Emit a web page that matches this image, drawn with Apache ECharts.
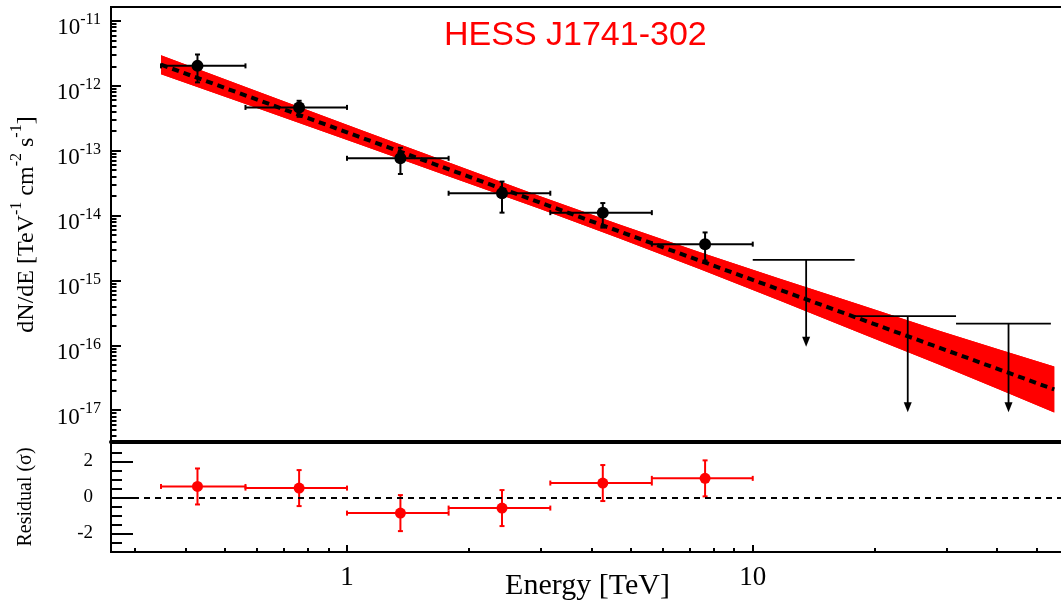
<!DOCTYPE html>
<html><head><meta charset="utf-8">
<script src="https://cdn.jsdelivr.net/npm/echarts@6/dist/echarts.min.js"></script>
<style>html,body{margin:0;padding:0;background:#fff}#c{width:1061px;height:602px}</style>
</head><body><div id="c"></div>
<script>
// ---- data ----
const pointE   = [0.428, 0.762, 1.354, 2.41, 4.27, 7.63];
const pointElo = [0.348, 0.562, 1.0, 1.78, 3.17, 5.64];
const pointEhi = [0.562, 1.0, 1.78, 3.17, 5.64, 10.0];
const pointF   = [2.03e-12, 4.65e-13, 7.64e-14, 2.21e-14, 1.11e-14, 3.63e-15];
const pointFlo = [1.13e-12, 3.33e-13, 4.38e-14, 1.11e-14, 6.53e-15, 2.03e-15];
const pointFhi = [3.04e-12, 5.88e-13, 1.11e-13, 3.34e-14, 1.56e-14, 5.5e-15];
const ulE   = [13.54, 24.1, 42.7];
const ulElo = [10.0, 17.83, 31.7];
const ulEhi = [17.83, 31.7, 54.3];
const ulF   = [2.08e-15, 2.83e-16, 2.16e-16];
const ulTip = [9.5e-17, 9.3e-18, 9.3e-18];
const fitE = [0.348, 1.0, 10.0, 55.35];
const fitF = [2.12e-12, 1.92e-13, 1.02e-15, 2.09e-17];
const bandE  = [0.348, 0.576, 1.075, 1.791, 2.983, 4.696, 7.39, 11.63, 18.32, 28.84, 40.52, 55.35];
const bandHi = [2.96e-12, 9.09e-13, 2.13e-13, 6.53e-14, 2.01e-14, 7.30e-15, 2.74e-15, 1.07e-15, 4.25e-16, 1.68e-16, 8.61e-17, 4.72e-17];
const bandLo = [1.51e-12, 4.98e-13, 1.25e-13, 3.98e-14, 1.27e-14, 4.45e-15, 1.50e-15, 4.91e-16, 1.57e-16, 5.04e-17, 2.09e-17, 9.25e-18];
const resid    = [0.61, 0.52, -0.87, -0.59, 0.80, 1.06];
const residErr = [1, 1, 1, 1, 1, 1];
const xMajorTicks = [1, 10];
const xMinorTicks = [0.3, 0.4, 0.5, 0.6, 0.7, 0.8, 0.9, 2, 3, 4, 5, 6, 7, 8, 9, 20, 30, 40, 50];
const yMajorTicks = [1e-17, 1e-16, 1e-15, 1e-14, 1e-13, 1e-12, 1e-11];
const residMajorTicks = [-2, 0, 2];
const residMinorTicks = [-2.5, -1.5, -1, -0.5, 0.5, 1, 1.5, 2.5];
const titleText = 'HESS J1741-302';

const X_MIN = 0.262, X_MAX = 58.5;
const Y_MIN = 3.24e-18, Y_MAX = 1.64e-11;
const R_MIN = -3.03, R_MAX = 3.08;

const yMinorTicks = [];
for (let n = -18; n <= -11; n++) for (let m = 2; m <= 9; m++) {
  const v = m * Math.pow(10, n);
  if (v > Y_MIN && v < Y_MAX) yMinorTicks.push(v);
}

const SERIF = 'Liberation Serif';
const SANS = 'Liberation Sans';

// white-dot overlay pattern for the band
const pc = document.createElement('canvas');
pc.width = 3; pc.height = 3;
const pctx = pc.getContext('2d');
pctx.clearRect(0, 0, 3, 3);
pctx.fillStyle = 'rgba(255,255,255,0.9)'; pctx.fillRect(0, 0, 1, 1);
const dotPattern = pctx.createPattern(pc, 'repeat');

function errRender(color) {
  return function (params, api) {
    const x = api.value(0), y = api.value(1), xl = api.value(2), xh = api.value(3), yl = api.value(4), yh = api.value(5);
    const pl = api.coord([xl, y]), ph = api.coord([xh, y]);
    const pb = api.coord([x, yl]), pt = api.coord([x, yh]);
    const st = { stroke: color, lineWidth: 2 };
    const cap = 2.5;
    const L = (x1, y1, x2, y2) => ({ type: 'line', shape: { x1, y1, x2, y2 }, style: st });
    return { type: 'group', children: [
      L(pl[0], pl[1], ph[0], ph[1]),
      L(pl[0], pl[1] - cap, pl[0], pl[1] + cap),
      L(ph[0], ph[1] - cap, ph[0], ph[1] + cap),
      L(pb[0], pb[1], pt[0], pt[1]),
      L(pb[0] - cap, pb[1], pb[0] + cap, pb[1]),
      L(pt[0] - cap, pt[1], pt[0] + cap, pt[1])
    ]};
  };
}

const chart = echarts.init(document.getElementById('c'), null, { renderer: 'canvas' });

const logAxisBase = { type: 'log', logBase: 10, splitLine: { show: false }, minorTick: { show: false } };

const option = {
  animation: false,
  backgroundColor: '#fff',
  title: {
    text: titleText, left: 444, top: 19, padding: 0,
    textStyle: { color: '#ff0000', fontFamily: SANS, fontSize: 34, fontWeight: 'normal' }
  },
  grid: [
    { left: 111, right: -3, top: 7, height: 435, show: true, borderColor: '#000', borderWidth: 2, backgroundColor: '#fff', outerBoundsMode: 'none', containLabel: false },
    { left: 111, right: -3, top: 442, height: 110, show: true, borderColor: '#000', borderWidth: 2, backgroundColor: '#fff', outerBoundsMode: 'none', containLabel: false }
  ],
  xAxis: [
    Object.assign({}, logAxisBase, { gridIndex: 0, position: 'bottom', min: X_MIN, max: X_MAX,
      axisLine: { show: true, onZero: false, lineStyle: { color: '#000', width: 4 } },
      axisTick: { show: false }, axisLabel: { show: false } }),
    Object.assign({}, logAxisBase, { gridIndex: 1, position: 'bottom', min: X_MIN, max: X_MAX,
      axisLine: { show: true, onZero: false, lineStyle: { color: '#000', width: 2 } },
      axisTick: { show: true, inside: true, length: 7, customValues: xMajorTicks, lineStyle: { color: '#000', width: 2 } },
      axisLabel: { show: true, customValues: xMajorTicks, margin: 12, color: '#000', fontFamily: SERIF, fontSize: 27 },
      name: 'Energy [TeV]', nameLocation: 'middle', nameGap: 19, nameMoveOverlap: false,
      nameTextStyle: { color: '#000', fontFamily: SERIF, fontSize: 30, verticalAlign: 'top' } }),
    Object.assign({}, logAxisBase, { gridIndex: 1, position: 'bottom', min: X_MIN, max: X_MAX,
      axisLine: { show: false, onZero: false },
      axisTick: { show: true, inside: true, length: 4, customValues: xMinorTicks, lineStyle: { color: '#000', width: 2 } },
      axisLabel: { show: false } })
  ],
  yAxis: [
    Object.assign({}, logAxisBase, { gridIndex: 0, position: 'left', min: Y_MIN, max: Y_MAX,
      axisLine: { show: true, onZero: false, lineStyle: { color: '#000', width: 2 } },
      axisTick: { show: true, inside: true, length: 10, customValues: yMajorTicks, lineStyle: { color: '#000', width: 2 } },
      axisLabel: { show: true, customValues: yMajorTicks, margin: 10, padding: [10, 0, 0, 0],
        formatter: v => '{b|10}{s|' + Math.round(Math.log10(v)) + '}',
        rich: {
          b: { fontFamily: SERIF, fontSize: 23, color: '#000', lineHeight: 28, verticalAlign: 'bottom' },
          s: { fontFamily: SERIF, fontSize: 16, color: '#000', lineHeight: 16, verticalAlign: 'top' }
        } },
      name: '{n|dN/dE [TeV}{s|-1}{n| cm}{s|-2}{n| s}{s|-1}{n|]}',
      nameLocation: 'middle', nameGap: 72, nameRotate: 90, nameMoveOverlap: false,
      nameTextStyle: { rich: {
        n: { fontFamily: SERIF, fontSize: 24, color: '#000', lineHeight: 30, verticalAlign: 'bottom' },
        s: { fontFamily: SERIF, fontSize: 16, color: '#000', lineHeight: 16, verticalAlign: 'top' }
      } } }),
    Object.assign({}, logAxisBase, { gridIndex: 0, position: 'left', min: Y_MIN, max: Y_MAX,
      axisLine: { show: false, onZero: false },
      axisTick: { show: true, inside: true, length: 5.5, customValues: yMinorTicks, lineStyle: { color: '#000', width: 2 } },
      axisLabel: { show: false } }),
    { type: 'value', gridIndex: 1, position: 'left', min: R_MIN, max: R_MAX, splitLine: { show: false },
      axisLine: { show: true, onZero: false, lineStyle: { color: '#000', width: 2 } },
      axisTick: { show: true, inside: true, length: 22, customValues: residMajorTicks, lineStyle: { color: '#000', width: 2 } },
      axisLabel: { show: true, customValues: residMajorTicks, margin: 18, color: '#000', fontFamily: SERIF, fontSize: 19 },
      name: 'Residual (σ)', nameLocation: 'middle', nameGap: 75, nameRotate: 90, nameMoveOverlap: false,
      nameTextStyle: { color: '#000', fontFamily: SERIF, fontSize: 20 } },
    { type: 'value', gridIndex: 1, position: 'left', min: R_MIN, max: R_MAX, splitLine: { show: false },
      axisLine: { show: false, onZero: false },
      axisTick: { show: true, inside: true, length: 11, customValues: residMinorTicks, lineStyle: { color: '#000', width: 2 } },
      axisLabel: { show: false } }
  ],
  series: [
    { // error band
      type: 'custom', xAxisIndex: 0, yAxisIndex: 0, z: 1, silent: true,
      data: bandE.map((e, i) => [e, bandHi[i], bandLo[i]]),
      renderItem: function (params, api) {
        if (params.dataIndex !== 0) return null;
        const pts = [];
        for (let i = 0; i < bandE.length; i++) pts.push(api.coord([bandE[i], bandHi[i]]));
        for (let i = bandE.length - 1; i >= 0; i--) pts.push(api.coord([bandE[i], bandLo[i]]));
        return { type: 'group', children: [
          { type: 'polygon', shape: { points: pts }, style: { fill: '#ff0000', stroke: null } },
          { type: 'polygon', shape: { points: pts.map(p => p.slice()) }, style: { fill: dotPattern, stroke: null } }
        ]};
      }
    },
    { // fit line
      type: 'line', xAxisIndex: 0, yAxisIndex: 0, z: 2, symbol: 'none', silent: true,
      data: fitE.map((e, i) => [e, fitF[i]]),
      lineStyle: { color: '#000', width: 4, type: [7, 5] }
    },
    { // flux error bars
      type: 'custom', xAxisIndex: 0, yAxisIndex: 0, z: 3, silent: true,
      data: pointE.map((e, i) => [e, pointF[i], pointElo[i], pointEhi[i], pointFlo[i], pointFhi[i]]),
      renderItem: errRender('#000')
    },
    { // flux points
      type: 'scatter', xAxisIndex: 0, yAxisIndex: 0, z: 4, silent: true,
      data: pointE.map((e, i) => [e, pointF[i]]),
      symbol: 'circle', symbolSize: 12, itemStyle: { color: '#000', opacity: 1 }
    },
    { // upper limits
      type: 'custom', xAxisIndex: 0, yAxisIndex: 0, z: 3, silent: true,
      data: ulE.map((e, i) => [e, ulF[i], ulElo[i], ulEhi[i], ulTip[i]]),
      renderItem: function (params, api) {
        const x = api.value(0), y = api.value(1), xl = api.value(2), xh = api.value(3), tip = api.value(4);
        const pl = api.coord([xl, y]), ph = api.coord([xh, y]);
        const pc0 = api.coord([x, y]), pt = api.coord([x, tip]);
        const st = { stroke: '#000', lineWidth: 1.8 };
        return { type: 'group', children: [
          { type: 'line', shape: { x1: pl[0], y1: pl[1], x2: ph[0], y2: ph[1] }, style: st },
          { type: 'line', shape: { x1: pc0[0], y1: pc0[1], x2: pt[0], y2: pt[1] - 8 }, style: st },
          { type: 'polygon', shape: { points: [[pt[0] - 4, pt[1] - 10], [pt[0] + 4, pt[1] - 10], [pt[0], pt[1]]] }, style: { fill: '#000' } }
        ]};
      }
    },
    { // residual error bars
      type: 'custom', xAxisIndex: 1, yAxisIndex: 2, z: 3, silent: true,
      data: pointE.map((e, i) => [e, resid[i], pointElo[i], pointEhi[i], resid[i] - residErr[i], resid[i] + residErr[i]]),
      renderItem: errRender('#ff0000')
    },
    { // residual points + zero line
      type: 'scatter', xAxisIndex: 1, yAxisIndex: 2, z: 4, silent: true,
      data: pointE.map((e, i) => [e, resid[i]]),
      symbol: 'circle', symbolSize: 11, itemStyle: { color: '#ff0000', opacity: 1 },
      markLine: { silent: true, symbol: 'none', label: { show: false },
        lineStyle: { color: '#000', width: 2, type: [6, 5], opacity: 1 },
        data: [{ yAxis: 0 }] }
    }
  ]
};
chart.setOption(option);
</script></body></html>
